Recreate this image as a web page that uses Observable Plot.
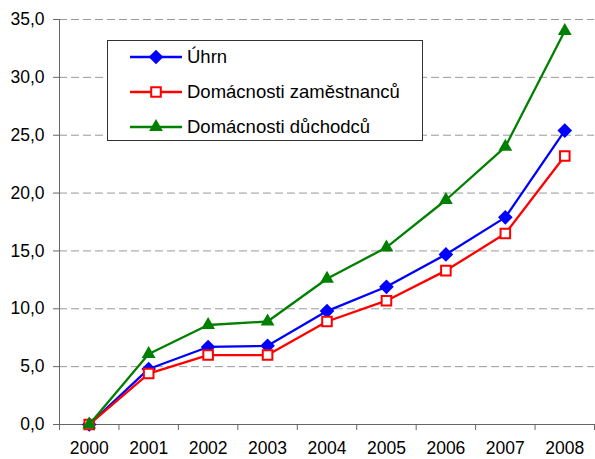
<!DOCTYPE html>
<html><head><meta charset="utf-8">
<script src="https://cdn.jsdelivr.net/npm/d3@7"></script>
<script src="https://cdn.jsdelivr.net/npm/@observablehq/plot@0.6"></script>
<style>
body{margin:0;background:#fff;font-family:"Liberation Sans",Arial,sans-serif;}
#wrap{position:relative;width:595px;height:459px;}
#legend{position:absolute;left:107px;top:40px;width:316px;height:101px;border:1px solid #333;background:#fff;box-sizing:border-box;font-size:18.5px;color:#000;}
.row{position:absolute;left:22px;height:22px;display:flex;align-items:center;}
.row span{margin-left:5px;white-space:nowrap;}
</style></head>
<body><div id="wrap"><div id="chart"></div><div id="legend"></div></div>
<script>
const years = [2000, 2001, 2002, 2003, 2004, 2005, 2006, 2007, 2008];
const uhrn = [0, 4.8, 6.7, 6.8, 9.8, 11.9, 14.7, 17.9, 25.4];
const zamestnanci = [0, 4.4, 6.0, 6.0, 8.9, 10.7, 13.3, 16.5, 23.2];
const duchodci = [0, 6.1, 8.6, 8.9, 12.6, 15.3, 19.4, 24.0, 34.0];
const yTicks = [0, 5, 10, 15, 20, 25, 30, 35];
const seriesNames = ["Úhrn", "Domácnosti zaměstnanců", "Domácnosti důchodců"];

const colors = ["#0000FF", "#FF0000", "#008000"];
const symbols = ["diamond2", "square", "triangle2"];
const fills = ["#0000FF", "#FFFFFF", "#008000"];
const radii = [6.6, 5.4, 6.6];
const valuesList = [uhrn, zamestnanci, duchodci];

const boundaries = years.map(y => y - 0.5).concat([years[years.length - 1] + 0.5]);
const fmt = d => d.toFixed(1).replace(".", ",");

const marks = [
  Plot.gridY(yTicks.filter(d => d > 0), {stroke: "#999", strokeOpacity: 1, strokeDasharray: "8,4"}),
  Plot.ruleX([boundaries[0]], {stroke: "#666"}),
  Plot.ruleY([0], {stroke: "#666"}),
  Plot.axisY(yTicks, {tickSize: 6, tickPadding: 9, tickFormat: fmt, fontSize: 17.5, stroke: "#666", label: null}),
  Plot.axisX(boundaries, {tickSize: 6, tickFormat: () => "", stroke: "#666", label: null}),
  Plot.axisX(years, {tickSize: 0, tickPadding: 17, tickFormat: d => String(d), fontSize: 17.5, label: null})
];
valuesList.forEach((vals, i) => {
  const data = years.map((y, j) => ({year: y, value: vals[j]}));
  marks.push(Plot.line(data, {x: "year", y: "value", stroke: colors[i], strokeWidth: 2.3}));
  marks.push(Plot.dot(data, {x: "year", y: "value", symbol: () => symbols[i], r: radii[i], fill: fills[i], stroke: i === 1 ? colors[i] : "none", strokeWidth: 2}));
});

const chart = Plot.plot({
  width: 595, height: 459,
  marginLeft: 59, marginRight: 1, marginTop: 19, marginBottom: 35,
  style: {fontFamily: "Liberation Sans, Arial, sans-serif", fontSize: "17.5px", color: "#000", background: "#fff"},
  x: {domain: [boundaries[0], boundaries[boundaries.length - 1]], axis: null},
  y: {domain: [0, 35], axis: null},
  symbol: {type: "identity"},
  marks
});
document.getElementById("chart").appendChild(chart);

const legend = document.getElementById("legend");
seriesNames.forEach((name, i) => {
  const row = document.createElement("div");
  row.className = "row";
  row.style.top = (4.5 + i * 35) + "px";
  const svg = d3.create("svg").attr("width", 52).attr("height", 22);
  svg.append("line").attr("x1", 0).attr("x2", 52).attr("y1", 11).attr("y2", 11).attr("stroke", colors[i]).attr("stroke-width", 2.3);
  const sym = d3.symbol().type(symbols[i] === "diamond2" ? d3.symbolDiamond2 : symbols[i] === "square" ? d3.symbolSquare : d3.symbolTriangle2).size(radii[i] * radii[i] * Math.PI);
  svg.append("path").attr("d", sym()).attr("transform", "translate(26,11)").attr("fill", fills[i]).attr("stroke", i === 1 ? colors[i] : "none").attr("stroke-width", 2);
  row.appendChild(svg.node());
  const span = document.createElement("span");
  span.textContent = name;
  row.appendChild(span);
  legend.appendChild(row);
});
</script></body></html>
